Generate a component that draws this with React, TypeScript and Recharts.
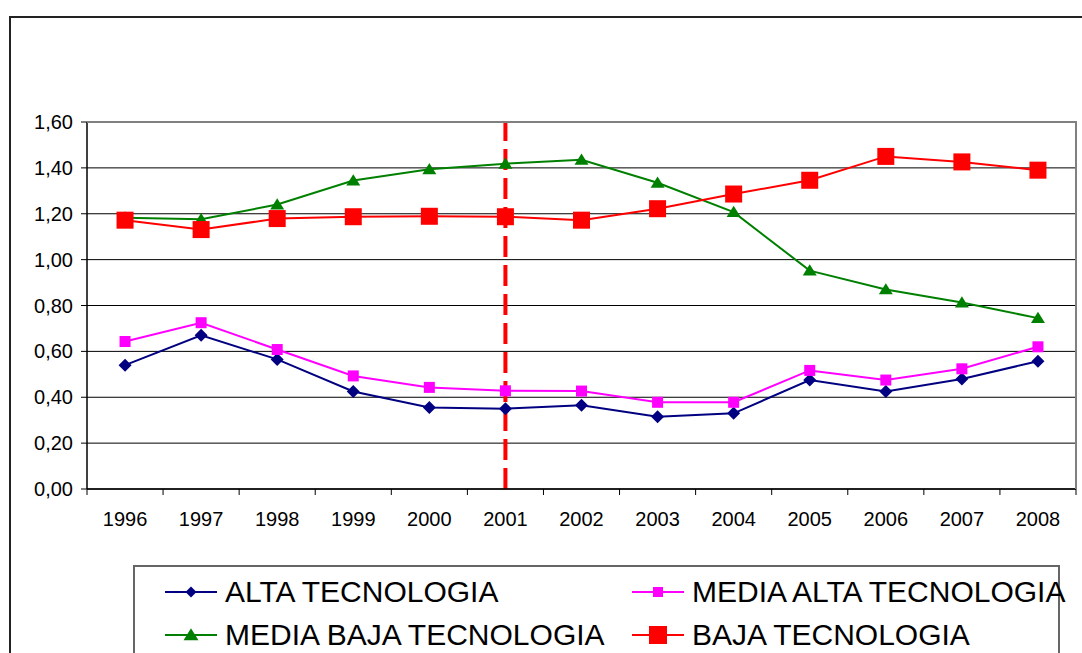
import { CartesianGrid, Line, LineChart, ReferenceLine, XAxis, YAxis } from "recharts";

const years = ["1996", "1997", "1998", "1999", "2000", "2001", "2002", "2003", "2004", "2005", "2006", "2007", "2008"];
const alta = [0.54, 0.67, 0.565, 0.425, 0.355, 0.35, 0.365, 0.315, 0.33, 0.475, 0.425, 0.48, 0.557];
const mediaAlta = [0.643, 0.725, 0.608, 0.493, 0.443, 0.428, 0.427, 0.378, 0.378, 0.517, 0.475, 0.524, 0.62];
const mediaBaja = [1.183, 1.176, 1.24, 1.345, 1.394, 1.418, 1.435, 1.335, 1.207, 0.952, 0.87, 0.813, 0.745];
const baja = [1.172, 1.131, 1.179, 1.187, 1.189, 1.187, 1.172, 1.222, 1.286, 1.346, 1.45, 1.426, 1.39];
const yTicks = [0, 0.2, 0.4, 0.6, 0.8, 1.0, 1.2, 1.4, 1.6];
const markYear = "2001";

const FONT = "Arial, 'Liberation Sans', sans-serif";
const TICK = 6;
const TICK_MARGIN = 17;

const data = years.map((year, i) => ({
  idx: i,
  year,
  alta: alta[i],
  mediaAlta: mediaAlta[i],
  mediaBaja: mediaBaja[i],
  baja: baja[i],
}));

// ticks at every category centre (labels) and every boundary (tick marks)
const xTicks = [...years.flatMap((_, i) => [i - 0.5, i]), years.length - 0.5];

type Shape = "diamond" | "square" | "triangle";

const Marker = ({ cx, cy, shape, size, color }: { cx: number; cy: number; shape: Shape; size: number; color: string }) => {
  const h = size / 2;
  if (shape === "diamond")
    return <polygon points={`${cx},${cy - h} ${cx + h},${cy} ${cx},${cy + h} ${cx - h},${cy}`} fill={color} />;
  if (shape === "triangle")
    return <polygon points={`${cx},${cy - h * 0.9} ${cx + h},${cy + h * 0.7} ${cx - h},${cy + h * 0.7}`} fill={color} />;
  return <rect x={cx - h} y={cy - h} width={size} height={size} fill={color} />;
};

const series = [
  { key: "alta", name: "ALTA TECNOLOGIA", color: "#000080", shape: "diamond" as Shape, size: 13, legendSize: 11 },
  { key: "mediaAlta", name: "MEDIA ALTA TECNOLOGIA", color: "#FF00FF", shape: "square" as Shape, size: 11, legendSize: 10 },
  { key: "mediaBaja", name: "MEDIA BAJA TECNOLOGIA", color: "#008000", shape: "triangle" as Shape, size: 14, legendSize: 15 },
  { key: "baja", name: "BAJA TECNOLOGIA", color: "#FF0000", shape: "square" as Shape, size: 17, legendSize: 18 },
];

const XTick = (props: any) => {
  const { x, y, payload } = props;
  const v = payload.value;
  if (Number.isInteger(v)) {
    return (
      <text x={x} y={y} dy="0.71em" textAnchor="middle" fill="#000" fontSize={20} fontFamily={FONT}>
        {years[v]}
      </text>
    );
  }
  return <line x1={x} x2={x} y1={y - TICK_MARGIN - TICK} y2={y - TICK_MARGIN} stroke="#000" />;
};

const LegendItem = ({ s, left, top }: { s: (typeof series)[number]; left: number; top: number }) => (
  <div style={{ position: "absolute", left, top, height: 34, display: "flex", alignItems: "center" }}>
    <svg width={52} height={20}>
      <line x1={0} x2={52} y1={10} y2={10} stroke={s.color} strokeWidth={2} />
      <Marker cx={26} cy={10} shape={s.shape} size={s.legendSize} color={s.color} />
    </svg>
    <span style={{ marginLeft: 8, fontSize: 30, fontFamily: FONT, color: "#000", whiteSpace: "nowrap" }}>{s.name}</span>
  </div>
);

export default function App() {
  return (
    <div style={{ position: "absolute", left: 0, top: 0, width: 1082, height: 653, overflow: "hidden", background: "#fff" }}>
      <div
        style={{
          position: "absolute",
          left: 9,
          top: 16,
          width: 1200,
          height: 800,
          borderLeft: "2px solid #222",
          borderTop: "2px solid #222",
        }}
      />
      <div style={{ position: "absolute", left: 0, top: 0 }}>
        <LineChart width={1082} height={653} data={data} margin={{ top: 122, right: 6, bottom: 124, left: 0 }}>
          <CartesianGrid vertical={false} stroke="#000" strokeWidth={1} />
          <XAxis
            dataKey="idx"
            type="number"
            domain={[-0.5, years.length - 0.5]}
            ticks={xTicks}
            interval={0}
            height={40}
            tickSize={TICK}
            tickMargin={TICK_MARGIN}
            tickLine={false}
            axisLine={{ stroke: "#000", strokeWidth: 1.5 }}
            tick={<XTick />}
          />
          <YAxis
            type="number"
            domain={[0, 1.6]}
            ticks={yTicks}
            width={87}
            tickSize={TICK}
            tickMargin={8}
            interval={0}
            axisLine={{ stroke: "#000", strokeWidth: 1.5 }}
            tickLine={{ stroke: "#000" }}
            tick={{ fill: "#000", fontSize: 20, fontFamily: FONT }}
            tickFormatter={(v: number) => v.toFixed(2).replace(".", ",")}
          />
          {series.map((s) => (
            <Line
              key={s.key}
              dataKey={s.key}
              name={s.name}
              stroke={s.color}
              strokeWidth={2}
              isAnimationActive={false}
              dot={(p: any) => <Marker key={p.index} cx={p.cx} cy={p.cy} shape={s.shape} size={s.size} color={s.color} />}
              activeDot={false}
            />
          ))}
          <ReferenceLine x={years.indexOf(markYear)} stroke="#FF0000" strokeWidth={4} strokeDasharray="21 8" />
        </LineChart>
      </div>
      <div
        style={{
          position: "absolute",
          left: 87,
          top: 121,
          width: 990,
          height: 368,
          boxSizing: "border-box",
          borderTop: "2px solid #808080",
          borderRight: "2px solid #808080",
          pointerEvents: "none",
        }}
      />
      <div
        style={{
          position: "absolute",
          left: 133,
          top: 565,
          width: 927,
          height: 200,
          boxSizing: "border-box",
          border: "2px solid #666",
          background: "#fff",
        }}
      />
      <LegendItem s={series[0]} left={165} top={575} />
      <LegendItem s={series[1]} left={632} top={575} />
      <LegendItem s={series[2]} left={165} top={618} />
      <LegendItem s={series[3]} left={632} top={618} />
    </div>
  );
}
